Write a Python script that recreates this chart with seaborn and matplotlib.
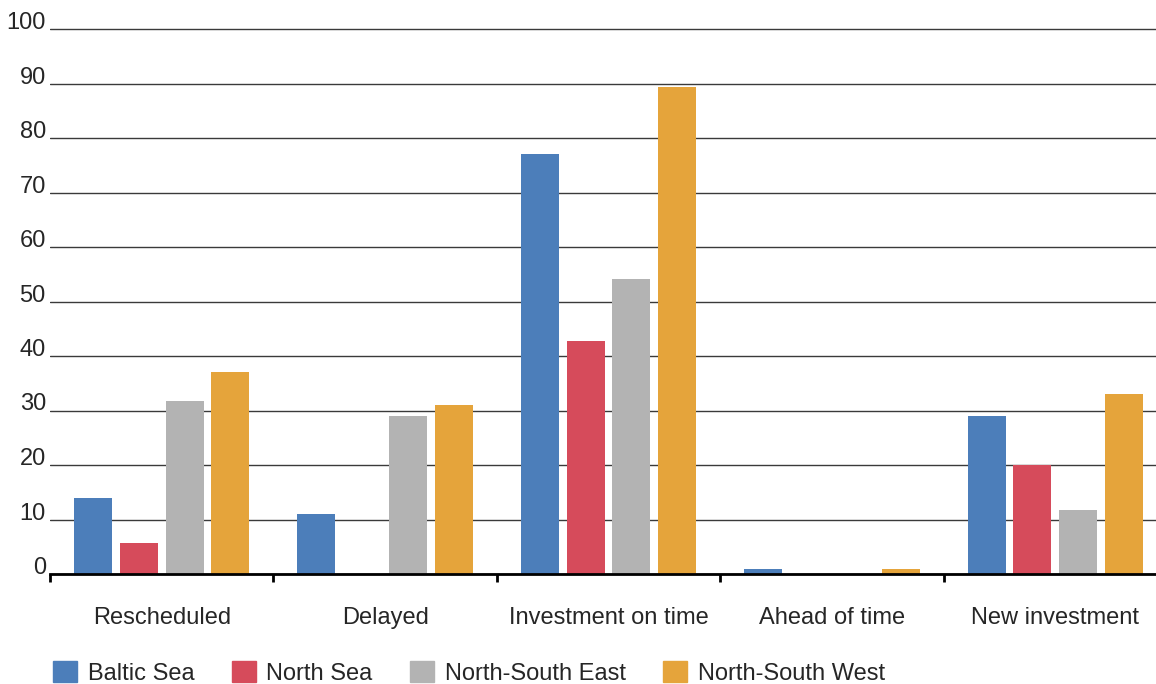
import numpy as np
import pandas as pd
import matplotlib
matplotlib.use("Agg")
import matplotlib.pyplot as plt
import matplotlib.transforms as mtransforms
import seaborn as sns

# data
categories = ["Rescheduled", "Delayed", "Investment on time", "Ahead of time", "New investment"]
regions = ["Baltic Sea", "North Sea", "North-South East", "North-South West"]
baltic_sea = [14.0, 11.0, 77.0, 0.9, 29.0]
north_sea = [5.7, 0.0, 42.8, 0.0, 20.0]
north_south_east = [31.8, 29.0, 54.2, 0.0, 11.8]
north_south_west = [37.1, 31.1, 89.3, 0.9, 33.0]
yticks = [0, 10, 20, 30, 40, 50, 60, 70, 80, 90, 100]

colors = ["#4C7EBA", "#D64B5B", "#B3B3B3", "#E5A43B"]

series = [baltic_sea, north_sea, north_south_east, north_south_west]
df = pd.DataFrame({
    "category": categories * len(regions),
    "region": [r for r in regions for _ in categories],
    "value": [v for s in series for v in s],
})

sns.set_style("white")
plt.rcParams["font.family"] = ["Liberation Sans", "DejaVu Sans"]
fs = 17

W, H = 1156, 684
fig = plt.figure(figsize=(W / 100, H / 100), dpi=100)
# axes placed in pixel terms: x boundaries 50..1167, y 0 at 574, 100 at 29
ax = fig.add_axes([50 / W, 1 - 574 / H, 1117 / W, (574 - 29) * 1.005 / H])

sns.barplot(data=df, x="category", y="value", hue="region", order=categories,
            hue_order=regions, palette=colors, width=0.82, gap=0.17,
            saturation=1, linewidth=0, ax=ax, legend=False)

ax.set_xlim(-0.5, 4.5)
ax.set_ylim(0, 100.5)
ax.set_yticks(yticks)
ax.set_yticklabels([str(t) for t in yticks], fontsize=fs)
shift = mtransforms.ScaledTranslation(0, -2 / 100, fig.dpi_scale_trans)
for lab in ax.get_yticklabels():
    lab.set_va("baseline")
    lab.set_transform(lab.get_transform() + shift)
ax.tick_params(axis="y", length=0, pad=3)
ax.yaxis.grid(True, color="#3a3a3a", linewidth=1.0)
ax.set_axisbelow(True)

ax.set_xticks(range(len(categories)))
ax.set_xticklabels(categories, fontsize=fs)
ax.tick_params(axis="x", which="major", bottom=True, length=0, pad=24)
ax.set_xticks(np.arange(-0.5, 5, 1.0), minor=True)
ax.tick_params(axis="x", which="minor", bottom=True, length=6, width=2,
               color="black", direction="out")

for side in ["top", "right", "left"]:
    ax.spines[side].set_visible(False)
ax.spines["bottom"].set_color("black")
ax.spines["bottom"].set_linewidth(2)
ax.set_xlabel("")
ax.set_ylabel("")

handles = [plt.Rectangle((0, 0), 1, 1, color=c) for c in colors]
fig.legend(handles, regions, loc="center left", bbox_to_anchor=(44 / W, 1 - 673 / H),
           ncol=4, frameon=False, fontsize=fs, handlelength=1.0, handleheight=1.0,
           handletextpad=0.45, columnspacing=1.6, borderaxespad=0)

fig.savefig("out.png", dpi=100)
